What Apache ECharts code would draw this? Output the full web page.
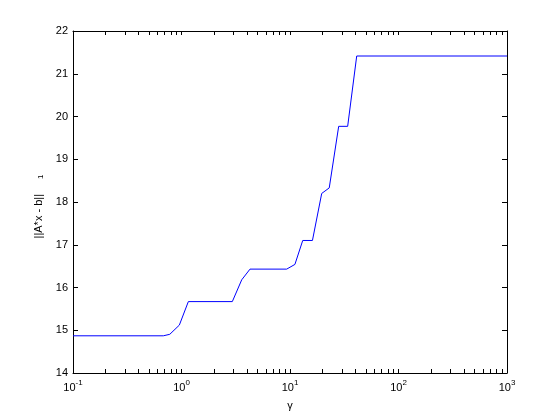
<!DOCTYPE html>
<html><head><meta charset="utf-8">
<script src="https://cdn.jsdelivr.net/npm/echarts@6/dist/echarts.min.js"></script>
<style>html,body{margin:0;padding:0;background:#fff}#c{width:560px;height:420px}</style>
</head><body><div id="c"></div>
<script>
const gamma = [0.1, 0.68, 0.78, 0.955, 1.156, 2.94, 3.59, 4.28, 9.32, 11.1, 13.1, 16.1, 19.6, 23.0, 28.1, 34.0, 41.2, 1000];
const normVals = [14.87, 14.87, 14.905, 15.12, 15.67, 15.67, 16.18, 16.43, 16.43, 16.54, 17.10, 17.10, 18.20, 18.33, 19.77, 19.77, 21.415, 21.415];
const xMajor = [0.1, 1, 10, 100, 1000];
const xMajorExp = ['-1', '0', '1', '2', '3'];
const xMinor = [0.2,0.3,0.4,0.5,0.6,0.7,0.8,0.9, 2,3,4,5,6,7,8,9, 20,30,40,50,60,70,80,90, 200,300,400,500,600,700,800,900];
const yTicks = [14,15,16,17,18,19,20,21,22];

const FONT = 'Liberation Sans';
const chart = echarts.init(document.getElementById('c'), null, {renderer: 'canvas'});
const grid = {left: 73, top: 31, width: 434, height: 342, show: false};
const allTicks = xMajor.concat(xMinor).sort((a, b) => a - b);
function xAx(pos, labels) {
  return {
    type: 'log', logBase: 10, min: 0.1, max: 1000, position: pos,
    axisLine: {show: true, onZero: false, lineStyle: {color: '#000', width: 1}},
    splitLine: {show: false},
    axisTick: {show: true, inside: true, length: 4, customValues: allTicks, lineStyle: {color: '#000', width: 1}},
    axisLabel: labels ? {
      show: true, margin: 6, customValues: xMajor,
      formatter: function (v) { const i = xMajor.findIndex(m => Math.abs(m - v) / m < 1e-6); return i < 0 ? '' : '{b|10}{s|' + xMajorExp[i] + '}'; },
      rich: {
        b: {fontFamily: FONT, fontSize: 11, color: '#000', verticalAlign: 'bottom', lineHeight: 14},
        s: {fontFamily: FONT, fontSize: 8, color: '#000', verticalAlign: 'top', lineHeight: 14}
      }
    } : {show: false}
  };
}
const xAxes = [xAx('bottom', true), xAx('top', false)];
xAxes[0].name = 'γ';
xAxes[0].nameLocation = 'middle';
xAxes[0].nameGap = 27;
xAxes[0].nameTextStyle = {fontFamily: FONT, fontSize: 11, color: '#000'};

function yAx(pos, labels) {
  return {
    type: 'value', min: 14, max: 22, interval: 1, position: pos,
    axisLine: {show: true, onZero: false, lineStyle: {color: '#000', width: 1}}, splitLine: {show: false},
    axisTick: {show: true, inside: true, length: 5, lineStyle: {color: '#000', width: 1}},
    axisLabel: labels ? {show: true, margin: 5, fontFamily: FONT, fontSize: 11, color: '#000'} : {show: false}
  };
}
const yAxes = [yAx('left', true), yAx('right', false)];
yAxes[0].name = '{a|||A*x - b||}{s|1}';
yAxes[0].nameLocation = 'middle';
yAxes[0].nameGap = 24;
yAxes[0].nameTextStyle = {
  rich: {
    a: {fontFamily: FONT, fontSize: 11, color: '#000', verticalAlign: 'bottom', lineHeight: 14},
    s: {fontFamily: FONT, fontSize: 8, color: '#000', verticalAlign: 'bottom', lineHeight: 14, padding: [0, 9, 0, 15]}
  }
};

chart.setOption({
  animation: false,
  backgroundColor: '#fff',
  grid: grid,
  xAxis: xAxes,
  yAxis: yAxes,
  series: [{
    type: 'line', xAxisIndex: 0, yAxisIndex: 0,
    data: gamma.map((g, i) => [g, normVals[i]]),
    showSymbol: false, symbol: 'none',
    lineStyle: {color: '#0000ff', width: 1},
    itemStyle: {color: '#0000ff'}
  }]
});
</script></body></html>
